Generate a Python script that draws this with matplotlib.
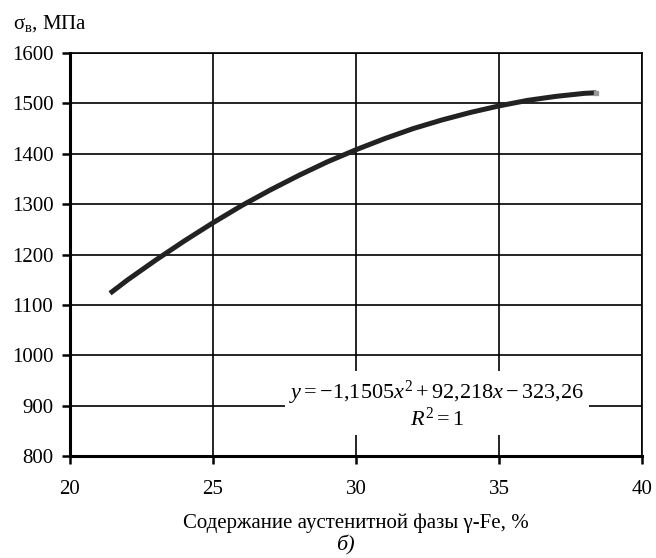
import numpy as np
import matplotlib.pyplot as plt

plt.rcParams['font.family'] = ['Liberation Serif', 'DejaVu Serif']
plt.rcParams['mathtext.fontset'] = 'custom'
plt.rcParams['mathtext.rm'] = 'Liberation Serif'
plt.rcParams['mathtext.it'] = 'Liberation Serif:italic'

# austenite content, % and tensile strength, MPa (trend line)
austenite = [21.4, 22, 23, 24, 25, 26, 27, 28, 29, 30, 31, 32, 33, 34, 35, 36, 37, 38, 38.4]
strength = [1123, 1149, 1189, 1227, 1263, 1297, 1328, 1357, 1384, 1408,
            1430, 1450, 1467, 1482, 1495, 1506, 1514, 1520, 1521]

xticks = [20, 25, 30, 35, 40]
yticks = [800, 900, 1000, 1100, 1200, 1300, 1400, 1500, 1600]

fig = plt.figure(figsize=(6.56, 5.58), dpi=100)
ax = fig.add_axes([0.1067, 0.1828, 0.872, 0.7222])

ax.plot(austenite, strength, color='#222222', lw=3.6, solid_capstyle='butt', zorder=3)
ax.plot(austenite[-1], strength[-1], 's', color='#999999', ms=3, zorder=3)

ax.set_xlim(20, 40)
ax.set_ylim(800, 1600)
ax.set_xticks(xticks)
ax.set_yticks(yticks)
ax.grid(True, color='black', lw=1.2)
ax.tick_params(labelsize=15, width=1.8, length=6, direction='out')
ax.tick_params(axis='x', pad=11)
ax.tick_params(axis='y', pad=6)

for side in ['left', 'bottom']:
    ax.spines[side].set_linewidth(2.2)
for side in ['right', 'top']:
    ax.spines[side].set_linewidth(1.2)

ax.set_xlabel('Содержание аустенитной фазы γ-Fe, %', fontsize=15, labelpad=11)

fig.text(0.02, 0.958, r'$\mathrm{σ}_{\mathrm{в}}$, МПа', fontsize=15, va='center', ha='left')
fig.text(0.527, 0.023, 'б)', fontsize=16, style='italic', ha='center', va='center')

eq = r'$y = -1{,}1505x^2 + 92{,}218x - 323{,}26$' + '\n' + r'$R^2 = 1$'
ax.text(32.83, 902, eq, fontsize=16, ha='center', va='center', linespacing=1.0,
        bbox=dict(facecolor='white', edgecolor='none', pad=3), zorder=4)

fig.savefig('out.png', dpi=100)
